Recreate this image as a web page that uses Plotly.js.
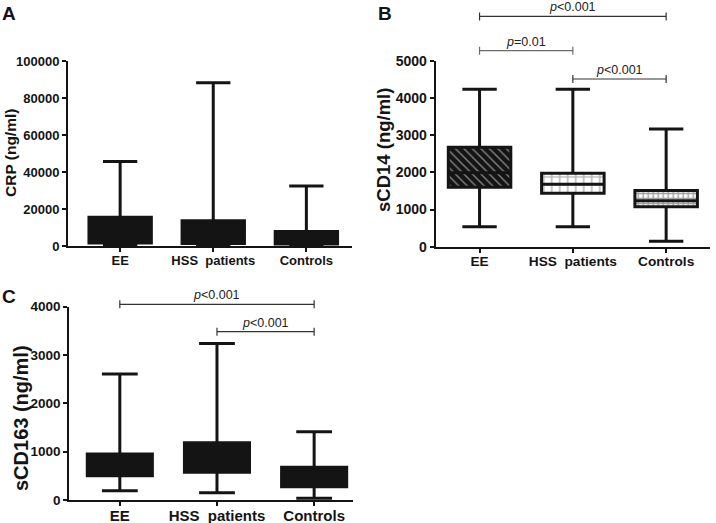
<!DOCTYPE html>
<html><head><meta charset="utf-8">
<script src="https://cdn.plot.ly/plotly-3.0.1.min.js"></script>
<style>html,body{margin:0;padding:0;background:#fff}#chart{width:716px;height:523px}</style>
</head><body><div id="chart"></div>
<script>
// ---------- data ----------
const categories = ['EE', 'HSS\u00a0 patients', 'Controls'];

// Panel A: CRP (ng/ml)
const crpMin    = [300, 300, 0];
const crpQ1     = [1600, 1300, 1100];
const crpMedian = [6000, 5000, 3500];
const crpQ3     = [15500, 13700, 7900];
const crpMax    = [45700, 88300, 32400];

// Panel B: sCD14 (ng/ml)
const cd14Min    = [540, 540, 145];
const cd14Q1     = [1600, 1436, 1077];
const cd14Median = [1990, 1680, 1240];
const cd14Q3     = [2680, 1975, 1510];
const cd14Max    = [4240, 4240, 3170];

// Panel C: sCD163 (ng/ml)
const cd163Min    = [193, 152, 34];
const cd163Q1     = [503, 572, 276];
const cd163Median = [700, 850, 450];
const cd163Q3     = [952, 1186, 676];
const cd163Max    = [2607, 3240, 1414];

// significance brackets (heights in data units of each panel)
const cd14BracketFrom   = ['EE', 'EE', 'HSS\u00a0 patients'];
const cd14BracketTo     = ['Controls', 'HSS\u00a0 patients', 'Controls'];
const cd14BracketY      = [6200, 5277, 4515];
const cd14BracketLabel  = ['<i>p</i>&lt;0.001', '<i>p</i>=0.01', '<i>p</i>&lt;0.001'];

const cd163BracketFrom  = ['EE', 'HSS\u00a0 patients'];
const cd163BracketTo    = ['Controls', 'Controls'];
const cd163BracketY     = [4050, 3484];
const cd163BracketLabel = ['<i>p</i>&lt;0.001', '<i>p</i>&lt;0.001'];

// ---------- style ----------
const FONT = 'Liberation Sans, Arial, sans-serif';
const INK = '#141414';
const W = 716, H = 523;

const domA = {x: [68 / W, 352 / W], y: [1 - 246 / H, 1 - 61 / H]};
const domB = {x: [435.7 / W, 710 / W], y: [1 - 246.7 / H, 1 - 61 / H]};
const domC = {x: [69.3 / W, 353 / W], y: [1 - 500 / H, 1 - 306.7 / H]};

function boxTrace(xa, ya, q1, med, q3, lo, hi, fill) {
  return {
    type: 'box', xaxis: xa, yaxis: ya, x: categories,
    q1: q1, median: med, q3: q3, lowerfence: lo, upperfence: hi,
    width: 0.67, whiskerwidth: 0.55, fillcolor: fill,
    line: {color: INK, width: 3}, boxpoints: false, hoverinfo: 'skip', showlegend: false
  };
}

const traces = [
  boxTrace('x', 'y', crpQ1, crpMedian, crpQ3, crpMin, crpMax, INK),
  {
    type: 'bar', xaxis: 'x2', yaxis: 'y2', x: categories,
    base: cd14Q1, y: cd14Q3.map((v, i) => v - cd14Q1[i]), width: 0.67,
    marker: {
      color: [INK, '#ffffff', '#ffffff'], line: {width: 0},
      pattern: {
        shape: ['\\', '+', '+'],
        fgcolor: ['#ffffff', INK, INK],
        size: [6, 8, 5], solidity: [0.22, 0.28, 0.5], fillmode: 'overlay'
      }
    },
    hoverinfo: 'skip', showlegend: false
  },
  boxTrace('x2', 'y2', cd14Q1, cd14Median, cd14Q3, cd14Min, cd14Max, 'rgba(0,0,0,0)'),
  boxTrace('x3', 'y3', cd163Q1, cd163Median, cd163Q3, cd163Min, cd163Max, INK)
];

function xAxis(dom, anchor, range, size) {
  return {
    domain: dom, anchor: anchor, type: 'category', range: range,
    showline: true, linewidth: 2, linecolor: INK, mirror: false,
    ticks: 'outside', ticklen: 4, tickwidth: 2, tickcolor: INK, ticklabelstandoff: -3,
    tickfont: {family: FONT, size: size, weight: 'bold', color: INK},
    showgrid: false, zeroline: false, fixedrange: true
  };
}
function yAxis(dom, anchor, max, dtick, size) {
  return {
    domain: dom, anchor: anchor, range: [0, max], dtick: dtick, tick0: 0, tickformat: 'd',
    showline: true, linewidth: 2, linecolor: INK,
    ticks: 'outside', ticklen: 4, tickwidth: 2, tickcolor: INK,
    tickfont: {family: FONT, size: size, weight: 'bold', color: INK},
    showgrid: false, zeroline: false, fixedrange: true
  };
}

const layout = {
  width: W, height: H, margin: {l: 0, r: 0, t: 0, b: 0},
  paper_bgcolor: '#ffffff', plot_bgcolor: 'rgba(0,0,0,0)',
  showlegend: false, barmode: 'overlay',
  xaxis:  xAxis(domA.x, 'y',  [-0.56, 2.49], 13),
  yaxis:  yAxis(domA.y, 'x',  100000, 20000, 13),
  xaxis2: xAxis(domB.x, 'y2', [-0.47, 2.47], 13.7),
  yaxis2: yAxis(domB.y, 'x2', 5000, 1000, 14),
  xaxis3: xAxis(domC.x, 'y3', [-0.52, 2.40], 15),
  yaxis3: yAxis(domC.y, 'x3', 4000, 1000, 13.5),
  shapes: [], annotations: []
};

// panel letters and y titles
function paperText(text, px, py, size, angle) {
  return {xref: 'paper', yref: 'paper', x: px / W, y: 1 - py / H, text: text, showarrow: false,
          xanchor: 'center', yanchor: 'middle', textangle: angle || 0,
          font: {family: FONT, size: size, weight: 'bold', color: INK}};
}
layout.annotations.push(paperText('A', 9, 13.5, 19));
layout.annotations.push(paperText('B', 385, 13, 19));
layout.annotations.push(paperText('C', 9, 296.5, 19));
layout.annotations.push(paperText('CRP (ng/ml)', 10, 153, 15.5, -90));
layout.annotations.push(paperText('sCD14 (ng/ml)', 383, 150, 18.5, -90));
layout.annotations.push(paperText('sCD163 (ng/ml)', 21, 418, 20, -90));

function addBrackets(xa, dom, max, from, to, ys, labels) {
  for (let i = 0; i < ys.length; i++) {
    const a = categories.indexOf(from[i]), b = categories.indexOf(to[i]);
    const py = dom.y[0] + (ys[i] / max) * (dom.y[1] - dom.y[0]);
    const col = labels[i].indexOf('=') >= 0 ? '#6a6a6a' : '#333333';
    layout.shapes.push({type: 'line', xref: xa, yref: 'paper', x0: a, x1: b, y0: py, y1: py,
                        line: {color: col, width: 1.2}});
    [a, b].forEach(c => layout.shapes.push({
      type: 'line', xref: xa, yref: 'paper', x0: c, x1: c, ysizemode: 'pixel', yanchor: py,
      y0: -4, y1: 4, line: {color: col, width: 1.2}}));
    layout.annotations.push({xref: xa, yref: 'paper', x: (a + b) / 2, y: py, yanchor: 'bottom',
      xanchor: 'center', yshift: 0, showarrow: false, text: labels[i],
      font: {family: FONT, size: 12.5, color: '#222222'}});
  }
}
addBrackets('x2', domB, 5000, cd14BracketFrom, cd14BracketTo, cd14BracketY, cd14BracketLabel);
addBrackets('x3', domC, 4000, cd163BracketFrom, cd163BracketTo, cd163BracketY, cd163BracketLabel);

Plotly.newPlot('chart', traces, layout, {staticPlot: true, displayModeBar: false});
</script>
</body></html>
